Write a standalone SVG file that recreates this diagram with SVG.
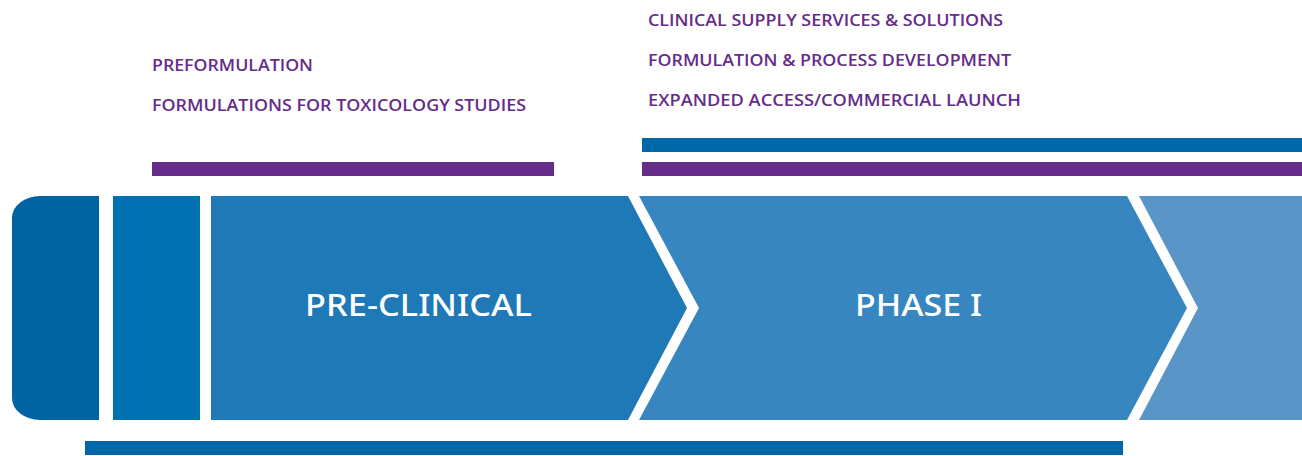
<svg xmlns="http://www.w3.org/2000/svg" width="1302" height="456" viewBox="0 0 1302 456">
<style>
.lbl{font-family:"Open Sans","Noto Sans","Liberation Sans",sans-serif;font-weight:600;font-size:16.5px;fill:#652d89}
.big{font-family:"Noto Sans","Open Sans","Liberation Sans",sans-serif;font-weight:500;font-size:30px;fill:#ffffff}
.purple{fill:#652d89}
.blue{fill:#0067a8}
</style>
<rect width="1302" height="456" fill="#ffffff"/>
<g id="bars">
<rect class="purple" x="152" y="162" width="402" height="14"/>
<rect class="blue" x="642" y="138" width="660" height="14"/>
<rect class="purple" x="642" y="162" width="660" height="14"/>
<rect class="blue" x="85" y="441" width="1038" height="14"/>
</g>
<g id="node-start">
<path d="M40,196 H99 V420 H40 A28,22 0 0 1 12,398 V218 A28,22 0 0 1 40,196 Z" fill="#0064a3"/>
</g>
<g id="node-discovery">
<rect x="113" y="196" width="87" height="224" fill="#0070b0"/>
</g>
<g id="node-preclinical">
<polygon points="211,196 628,196 687,308 628,420 211,420" fill="#1e79b6"/>
<text class="big" x="305" y="316" textLength="227" lengthAdjust="spacingAndGlyphs">PRE-CLINICAL</text>
</g>
<g id="node-phase1">
<polygon points="639,196 1127,196 1187,308 1127,420 639,420 699,308" fill="#3786c0"/>
<text class="big" x="855" y="316" textLength="127" lengthAdjust="spacingAndGlyphs">PHASE I</text>
</g>
<g id="node-next">
<polygon points="1139,196 1302,196 1302,420 1139,420 1198,308" fill="#5a95c7"/>
</g>
<g id="labels">
<text class="lbl" x="152" y="71" textLength="161" lengthAdjust="spacingAndGlyphs">PREFORMULATION</text>
<text class="lbl" x="152" y="111" textLength="374" lengthAdjust="spacingAndGlyphs">FORMULATIONS FOR TOXICOLOGY STUDIES</text>
<text class="lbl" x="648" y="26" textLength="355" lengthAdjust="spacingAndGlyphs">CLINICAL SUPPLY SERVICES &amp; SOLUTIONS</text>
<text class="lbl" x="648" y="66" textLength="363" lengthAdjust="spacingAndGlyphs">FORMULATION &amp; PROCESS DEVELOPMENT</text>
<text class="lbl" x="648" y="106" textLength="373" lengthAdjust="spacingAndGlyphs">EXPANDED ACCESS/COMMERCIAL LAUNCH</text>
</g>
</svg>
